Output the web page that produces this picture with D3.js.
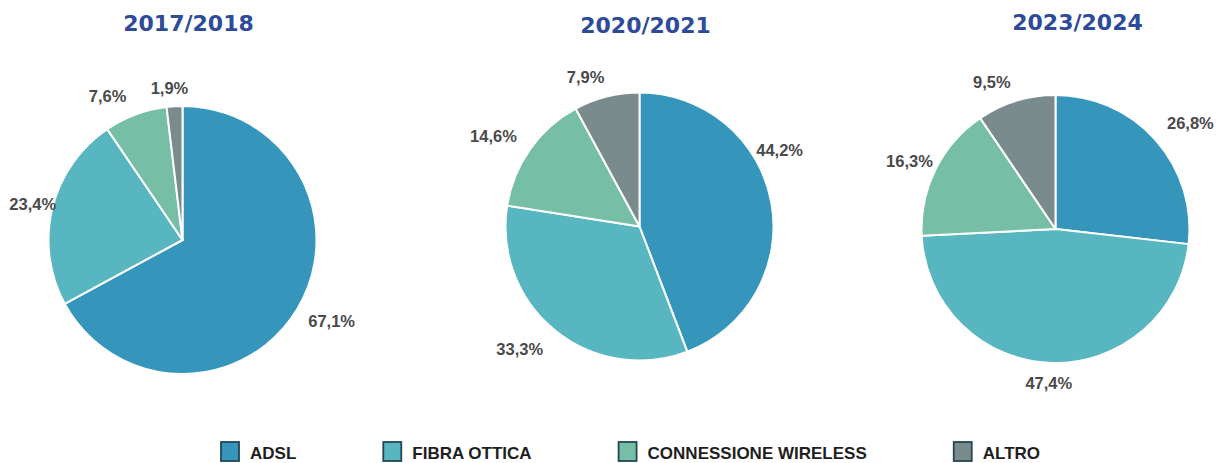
<!DOCTYPE html>
<html>
<head>
<meta charset="utf-8">
<script src="https://cdn.jsdelivr.net/npm/d3@7"></script>
<style>
body { margin: 0; background: #fff; }
.title { font-family: "DejaVu Sans", Verdana, sans-serif; font-weight: bold; font-size: 22px; fill: #2d4b9a; }
.pct { font-family: "Liberation Sans", Arial, sans-serif; font-weight: bold; font-size: 16.5px; fill: #4a4a4a; }
.leg { font-family: "Liberation Sans", Arial, sans-serif; font-weight: bold; font-size: 17px; fill: #1e1e1e; }
</style>
</head>
<body>
<div id="content"></div>
<script>
// data
var categories = ["ADSL", "FIBRA OTTICA", "CONNESSIONE WIRELESS", "ALTRO"];
var periods = ["2017/2018", "2020/2021", "2023/2024"];
var share1718 = [67.1, 23.4, 7.6, 1.9];
var share2021 = [44.2, 33.3, 14.6, 7.9];
var share2324 = [26.8, 47.4, 16.3, 9.5];
var colors = ["#3595bb", "#58b6c0", "#76bea6", "#798b8c"];

var W = 1216, H = 463;

// layout of the three pies
var pies = [
    { title: periods[0], values: share1718, cx: 182.5, cy: 240, titleShift: 6,
      nudge: [[3, -6], [18, 5], [-20, 3], [-4, -1]] },
    { title: periods[1], values: share2021, cx: 639.5, cy: 226.5, titleShift: 6,
      nudge: [[-30, -45], [-16, -5], [-8, 7], [-16, 0]] },
    { title: periods[2], values: share2324, cx: 1055.5, cy: 229, titleShift: 22,
      nudge: [[10, 6], [-2, 3], [7, 8], [-18, 2]] }
];
var titleY = [31, 33, 30];
var radius = 134;

var color = d3.scaleOrdinal().domain(categories).range(colors);
var fmt = function(v) { return d3.format(".1f")(v).replace(".", ",") + "%"; };

var svg = d3.select("#content").append("svg")
    .attr("width", W)
    .attr("height", H);

svg.append("rect").attr("width", W).attr("height", H).attr("fill", "#fff");

var pie = d3.pie().sort(null).value(function(d) { return d; });
var arc = d3.arc().innerRadius(0).outerRadius(radius);

pies.forEach(function(p, k) {
    var g = svg.append("g")
        .attr("transform", "translate(" + p.cx + "," + p.cy + ")");

    svg.append("text")
        .attr("class", "title")
        .attr("text-anchor", "middle")
        .attr("x", p.cx + p.titleShift)
        .attr("y", titleY[k])
        .text(p.title);

    var arcs = pie(p.values);

    g.selectAll("path")
        .data(arcs)
        .enter()
        .append("path")
        .attr("d", arc)
        .attr("fill", function(d, i) { return color(categories[i]); })
        .attr("stroke", "#fff")
        .attr("stroke-width", 2)
        .attr("stroke-linejoin", "round");

    // labels sit just outside the slice, on its middle angle
    g.selectAll("text.pct")
        .data(arcs)
        .enter()
        .append("text")
        .attr("class", "pct")
        .attr("text-anchor", "middle")
        .text(function(d) { return fmt(d.data); })
        .each(function(d, i) {
            var a = (d.startAngle + d.endAngle) / 2;
            var w = this.getComputedTextLength();
            var R = radius + 16 + Math.abs(Math.sin(a)) * w / 2;
            var x = R * Math.sin(a) + p.nudge[i][0];
            var y = -R * Math.cos(a) + p.nudge[i][1];
            d3.select(this).attr("x", x).attr("y", y + 6);
        });
});

// legend
var legend = svg.append("g").attr("class", "legend");
var lx = 221;
categories.forEach(function(c, i) {
    legend.append("rect")
        .attr("x", lx)
        .attr("y", 442)
        .attr("width", 18)
        .attr("height", 19)
        .attr("fill", color(c))
        .attr("stroke", "#234656")
        .attr("stroke-width", 1.8);
    var t = legend.append("text")
        .attr("class", "leg")
        .attr("x", lx + 29)
        .attr("y", 459)
        .text(c);
    lx += 29 + t.node().getComputedTextLength() + 87;
});
</script>
</body>
</html>
